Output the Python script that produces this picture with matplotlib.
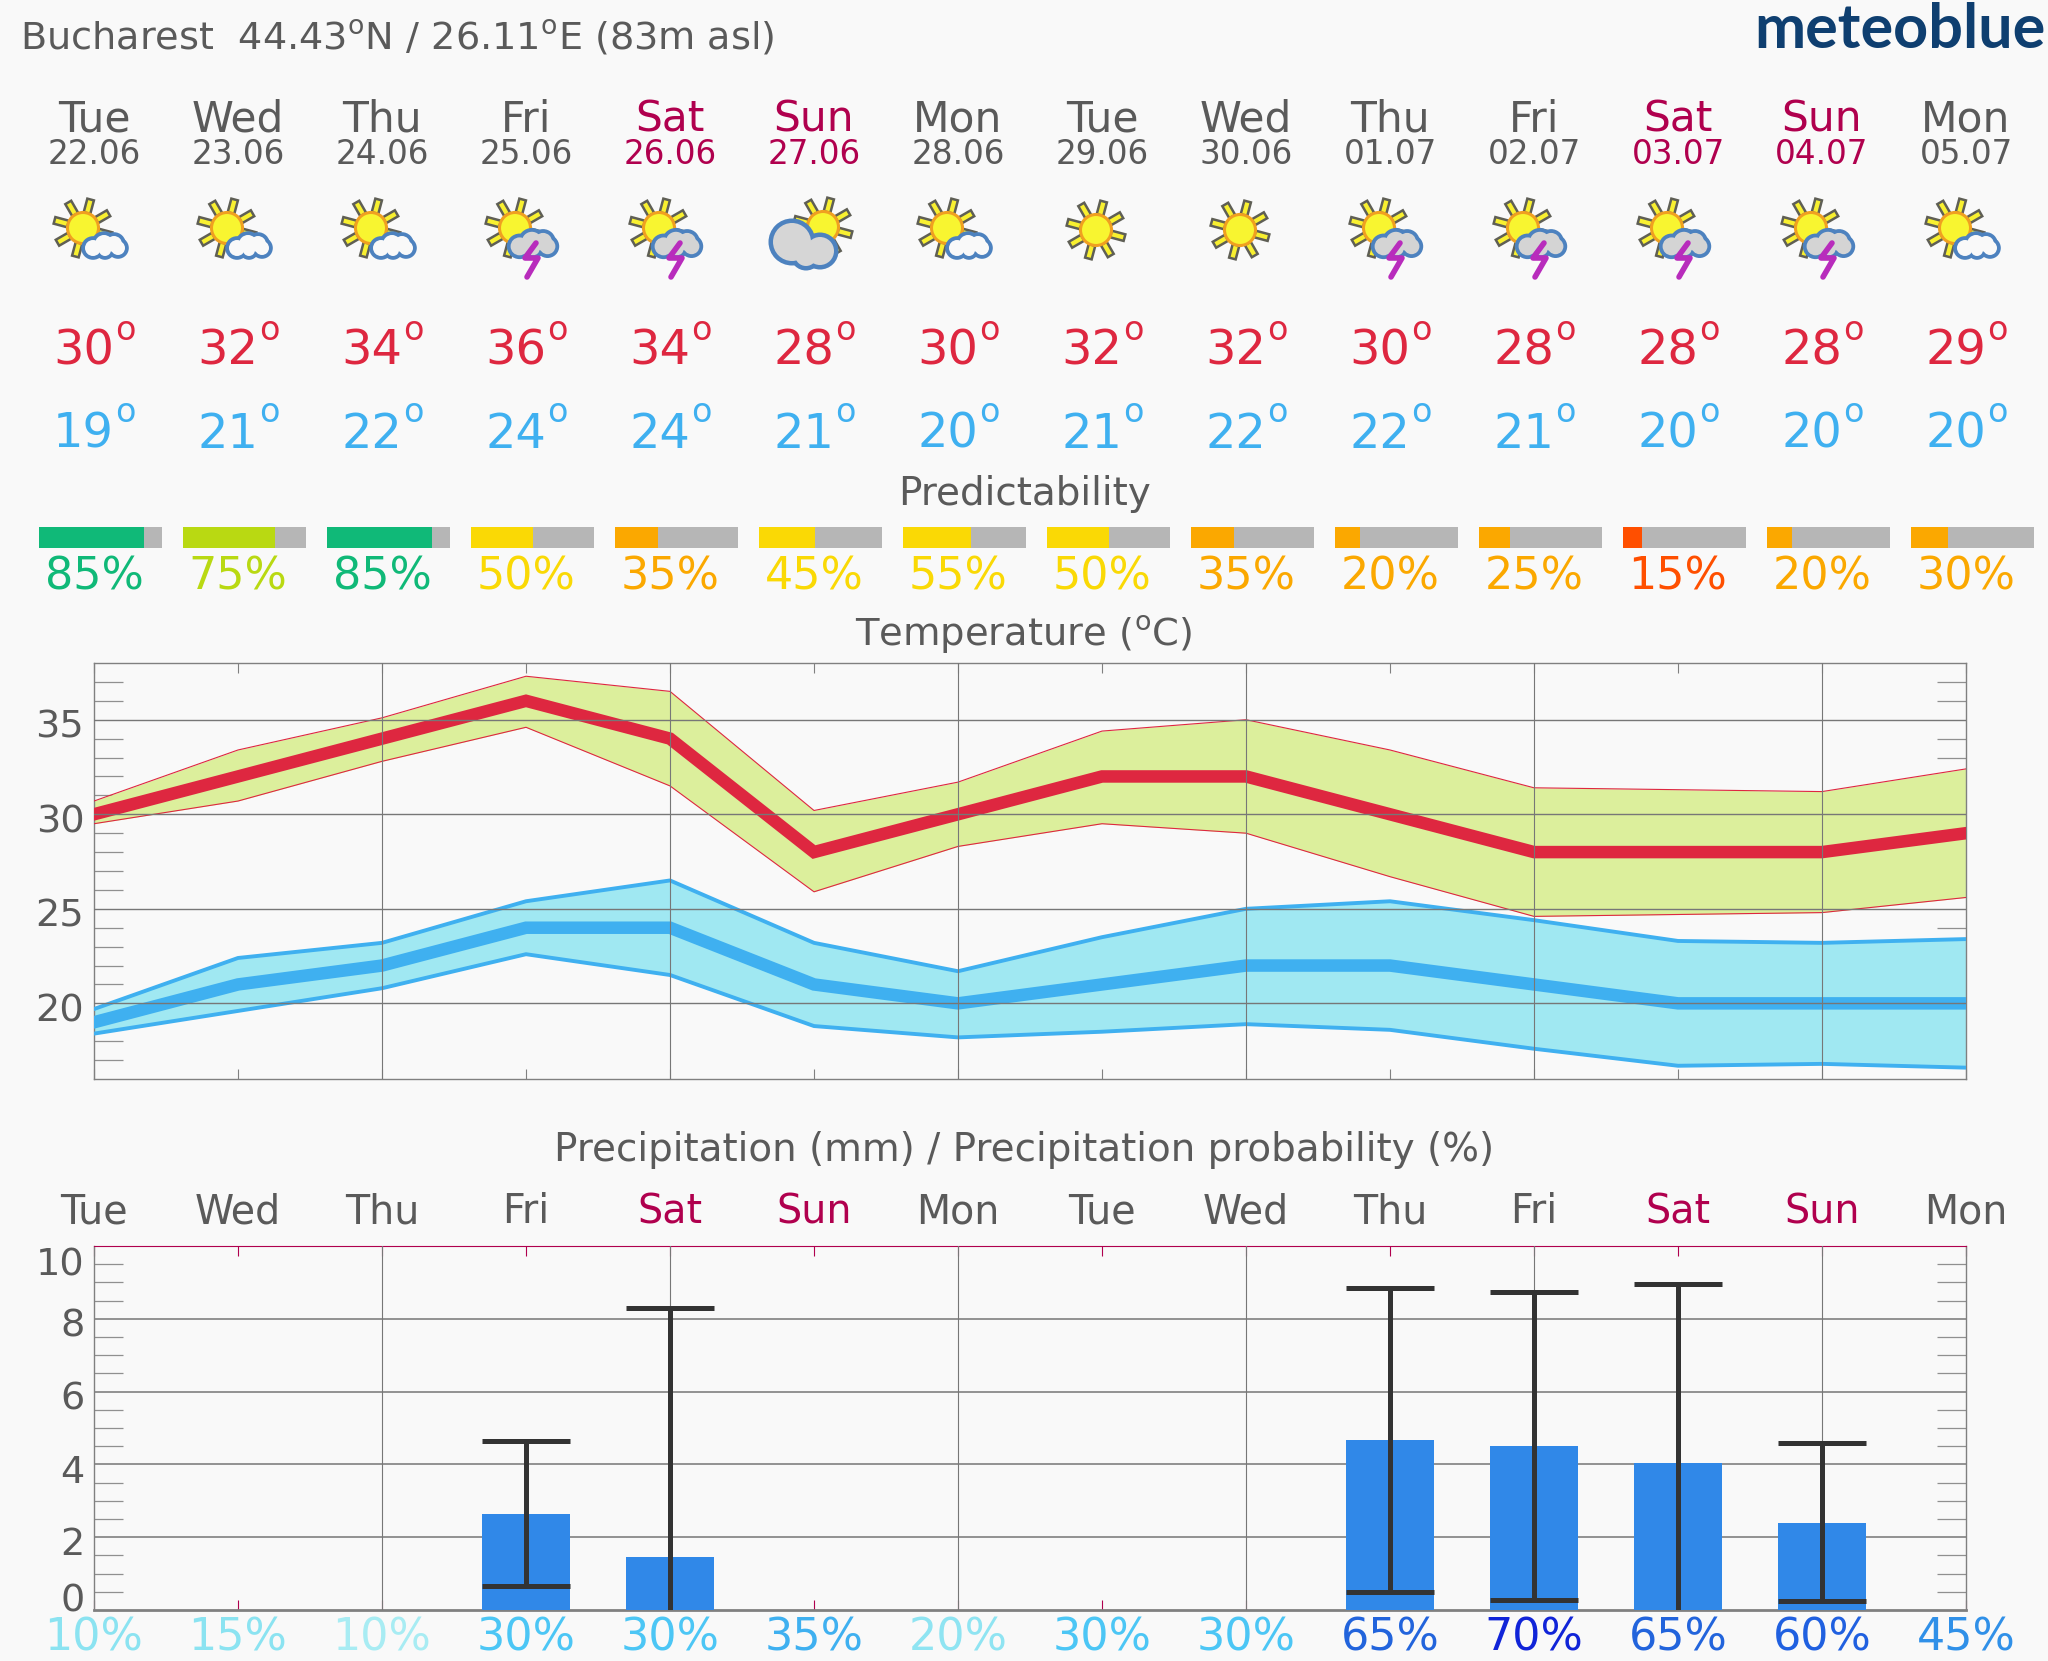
import matplotlib
matplotlib.use('Agg')
import matplotlib.pyplot as plt
import numpy as np
from matplotlib.patches import Circle, Polygon
from matplotlib.transforms import ScaledTranslation

# Data
days = ['Tue', 'Wed', 'Thu', 'Fri', 'Sat', 'Sun', 'Mon', 'Tue', 'Wed', 'Thu', 'Fri', 'Sat', 'Sun', 'Mon']
dates = ['22.06', '23.06', '24.06', '25.06', '26.06', '27.06', '28.06', '29.06', '30.06', '01.07', '02.07', '03.07', '04.07', '05.07']
icons = ['suncloud', 'suncloud', 'suncloud', 'storm', 'storm', 'cloudsun', 'suncloud', 'sun', 'sun', 'storm', 'storm', 'storm', 'storm', 'suncloud']

tmax = [30, 32, 34, 36, 34, 28, 30, 32, 32, 30, 28, 28, 28, 29]
tmin = [19, 21, 22, 24, 24, 21, 20, 21, 22, 22, 21, 20, 20, 20]
tmax_hi = [30.7, 33.4, 35.1, 37.3, 36.5, 30.2, 31.7, 34.4, 35.0, 33.4, 31.4, 31.3, 31.2, 32.4]
tmax_lo = [29.5, 30.7, 32.8, 34.6, 31.5, 25.9, 28.3, 29.5, 29.0, 26.7, 24.6, 24.7, 24.8, 25.6]
tmin_hi = [19.7, 22.4, 23.2, 25.4, 26.5, 23.2, 21.7, 23.5, 25.0, 25.4, 24.4, 23.3, 23.2, 23.4]
tmin_lo = [18.4, 19.6, 20.8, 22.6, 21.5, 18.8, 18.2, 18.5, 18.9, 18.6, 17.6, 16.7, 16.8, 16.6]

predictability = [85, 75, 85, 50, 35, 45, 55, 50, 35, 20, 25, 15, 20, 30]
pred_colors = ['#10b978', '#b9d912', '#10b978', '#fad905', '#fba800', '#fad905', '#fad905',
               '#fad905', '#fba800', '#fba800', '#fba800', '#ff4f00', '#fba800', '#fba800']

precip = [0, 0, 0, 2.65, 1.45, 0, 0, 0, 0, 4.67, 4.5, 4.05, 2.4, 0]
precip_lo = [0, 0, 0, 0.65, 0, 0, 0, 0, 0, 0.5, 0.28, 0, 0.25, 0]
precip_hi = [0, 0, 0, 4.65, 8.3, 0, 0, 0, 0, 8.85, 8.75, 8.95, 4.58, 0]
precip_prob = [10, 15, 10, 30, 30, 35, 20, 30, 30, 65, 70, 65, 60, 45]
prob_colors = ['#8be3f1', '#8be3f1', '#a8ecf3', '#4cc6f5', '#4cc6f5', '#3fb0f0', '#8fe4f2', '#4cc6f5',
               '#4cc6f5', '#2264dc', '#1024d8', '#2264dc', '#2060e0', '#3090e8']

# Style
W, H = 2048, 1661
bg = '#f9f9f9'
grey = '#5a5a5a'
weekend = '#b0004e'
red = '#de2740'
blue = '#3fb0f0'
line_grey = '#808080'
bar_w = 0.853

plt.rcParams['font.family'] = 'DejaVu Sans'
plt.rcParams['mathtext.default'] = 'regular'

fig = plt.figure(figsize=(W / 100, H / 100), dpi=100, facecolor=bg)


def rect(left, top, right, bottom):
    return [left / W, 1 - bottom / H, (right - left) / W, (bottom - top) / H]


def day_x(i):
    return 94 + i * (1966 - 94) / 13


def day_color(name):
    return weekend if name in ('Sat', 'Sun') else grey


# Sheet in pixel coordinates for the header texts and the icons
sheet = fig.add_axes([0, 0, 1, 1])
sheet.set_xlim(0, W)
sheet.set_ylim(H, 0)
sheet.axis('off')


def draw_sun(cx, cy, r=15.5):
    for angle in np.arange(0, 360, 45) + 15:
        a = np.radians(angle)
        u = np.array([np.cos(a), np.sin(a)])
        n = np.array([-u[1], u[0]])
        c = np.array([cx, cy])
        pts = [c + u * r - n * 3.4, c + u * (r + 14) - n * 3.4, c + u * (r + 14) + n * 3.4, c + u * r + n * 3.4]
        sheet.add_patch(Polygon(pts, closed=True, fc='#f8f030', ec='#5f5f55', lw=1.8, zorder=3))
    sheet.add_patch(Circle((cx, cy), r, fc='#f8f530', ec='#f0a020', lw=2.2, zorder=4))


def draw_cloud(cx, cy, fill, scale=1.0):
    parts = [(-12, 3, 8), (-1, -1, 9), (9, -1, 8), (13, 3, 7), (0, 5, 6)]
    for dx, dy, r in parts:
        sheet.add_patch(Circle((cx + dx * scale, cy + dy * scale), r * scale + 3.8, fc='#4d82bf', ec='none', zorder=5))
    for dx, dy, r in parts:
        sheet.add_patch(Circle((cx + dx * scale, cy + dy * scale), r * scale, fc=fill, ec='none', zorder=6))


def draw_big_cloud(cx, cy):
    lobes = [(-12, -3, 19), (16, 6, 14), (2, 10, 11)]
    for dx, dy, r in lobes:
        sheet.add_patch(Circle((cx + dx, cy + dy), r + 4.5, fc='#4d82bf', ec='none', zorder=5))
    for dx, dy, r in lobes:
        sheet.add_patch(Circle((cx + dx, cy + dy), r, fc='#d6d6d6', ec='none', zorder=6))


def draw_bolt(cx, cy):
    xs = np.array([10, -1, 12, 1]) + cx
    ys = np.array([13, 28, 28, 47]) + cy
    sheet.plot(xs, ys, color='#b82cbc', lw=4, solid_capstyle='round', zorder=7)


def draw_icon(cx, kind):
    cy = 230
    if kind == 'sun':
        draw_sun(cx - 6, cy)
    elif kind == 'suncloud':
        draw_sun(cx - 11, cy - 2)
        draw_cloud(cx + 11, cy + 15, bg)
    elif kind == 'storm':
        draw_sun(cx - 11, cy - 2)
        draw_cloud(cx + 7, cy + 13, '#d4d4d4', 1.12)
        draw_bolt(cx, cy)
    elif kind == 'cloudsun':
        draw_sun(cx + 9, cy - 3)
        draw_big_cloud(cx - 10, cy + 15)


def temp_label(x, y, value, color):
    sheet.text(x + 20, y, '%d' % value, color=color, fontsize=34.5, ha='right', va='center')
    sheet.text(x + 21, y - 21, 'o', color=color, fontsize=24, ha='left', va='center')


sheet.text(20, 38, 'Bucharest  44.43$^{o}$N / 26.11$^{o}$E (83m asl)', color=grey, fontsize=27.5, ha='left', va='center')
sheet.text(2046, 30, 'meteoblue', color='#0f3f70', fontsize=44, fontweight='bold', family='Lato', ha='right', va='center')

for i, name in enumerate(days):
    x = day_x(i)
    c = day_color(name)
    sheet.text(x, 120, name, color=c, fontsize=30.5, ha='center', va='center')
    sheet.text(x, 155, dates[i], color=c, fontsize=23.5, ha='center', va='center')
    draw_icon(x, icons[i])
    temp_label(x, 351, tmax[i], red)
    temp_label(x, 434, tmin[i], blue)
    sheet.text(x, 577, '%d%%' % predictability[i], color=pred_colors[i], fontsize=32, ha='center', va='center')
    sheet.text(x, 1212, name, color=c, fontsize=28.5, ha='center', va='center')
    sheet.text(x, 1638, '%d%%' % precip_prob[i], color=prob_colors[i], fontsize=32, ha='center', va='center')

sheet.text(W / 2, 494, 'Predictability', color=grey, fontsize=28, ha='center', va='center')
sheet.text(W / 2, 635, 'Temperature ($^{o}$C)', color=grey, fontsize=27.7, ha='center', va='center')
sheet.text(W / 2, 1150, 'Precipitation (mm) / Precipitation probability (%)', color=grey, fontsize=28, ha='center', va='center')

# Predictability bars
ax_pred = fig.add_axes(rect(94, 527, 1966, 548))
ax_pred.set_xlim(0, 13)
ax_pred.set_ylim(0, 1)
ax_pred.axis('off')
bar_left = np.arange(14) - 0.38
ax_pred.bar(bar_left, 1, bar_w, align='edge', color='#b6b6b6', clip_on=False)
ax_pred.bar(bar_left, 1, np.array(predictability) / 100 * bar_w, align='edge', color=pred_colors, clip_on=False)


def style_axes(ax):
    ax.set_facecolor('none')
    ax.set_xlim(0, 13)
    ax.set_xticks(np.arange(14))
    ax.set_xticklabels([])
    for s in ax.spines.values():
        s.set_color(line_grey)
        s.set_linewidth(1.0)
    ax.tick_params(axis='x', which='major', direction='in', length=7, width=0.8, color=line_grey, top=True, bottom=True)
    ax.tick_params(axis='y', which='major', direction='in', length=0, labelsize=27.5, labelcolor=grey, pad=7)
    ax.tick_params(axis='y', which='minor', direction='in', length=21, width=0.9, color='#909090', left=True, right=True)
    for d in np.arange(2, 13, 2):
        ax.axvline(d, color='#777777', lw=0.8, zorder=4)


def shift_labels(ax, shifts):
    # tick labels sit a little off their grid lines in the original, in points
    for lab, dy in zip(ax.get_yticklabels(), shifts):
        lab.set_transform(lab.get_transform() + ScaledTranslation(0, dy / 72, fig.dpi_scale_trans))


# Temperature
ax_t = fig.add_axes(rect(94, 663, 1966, 1079))
style_axes(ax_t)
ax_t.set_ylim(16, 38)
ax_t.set_yticks([20, 25, 30, 35])
ax_t.set_yticks(np.arange(17, 38), minor=True)
shift_labels(ax_t, [-3, -3, -3, -3])
for v in [20, 25, 30, 35]:
    ax_t.axhline(v, color='#777777', lw=1.0, zorder=4)
xd = np.arange(14)
ax_t.fill_between(xd, tmax_lo, tmax_hi, color='#dcef9c', lw=0, zorder=2)
ax_t.plot(xd, tmax_hi, color=red, lw=0.8, zorder=3)
ax_t.plot(xd, tmax_lo, color=red, lw=0.8, zorder=3)
ax_t.fill_between(xd, tmin_lo, tmin_hi, color='#a0e8f2', lw=0, zorder=2)
ax_t.plot(xd, tmin_hi, color=blue, lw=2.8, zorder=3)
ax_t.plot(xd, tmin_lo, color=blue, lw=2.8, zorder=3)
ax_t.plot(xd, tmin, color=blue, lw=9, zorder=3, solid_joinstyle='miter')
ax_t.plot(xd, tmax, color=red, lw=9, zorder=3, solid_joinstyle='miter')

# Precipitation
ax_p = fig.add_axes(rect(94, 1246, 1966, 1610))
style_axes(ax_p)
ax_p.set_ylim(0, 10)
ax_p.set_yticks([0, 2, 4, 6, 8, 10])
ax_p.set_yticks(np.arange(0.5, 10, 0.5), minor=True)
shift_labels(ax_p, [9, -3, -3, -3, -3, -11])
ax_p.spines['top'].set_color(weekend)
ax_p.spines['top'].set_linewidth(0.8)
ax_p.tick_params(axis='x', which='major', color=weekend)
ax_p.spines['bottom'].set_linewidth(2)
for v in [2, 4, 6, 8]:
    ax_p.axhline(v, color='#8a8a8a', lw=1.3, zorder=1)
ax_p.bar(xd, precip, 0.61, color='#3088e8', zorder=5)
for i in range(14):
    if precip[i] > 0:
        ax_p.plot([i, i], [precip_lo[i], precip_hi[i]], color='#333333', lw=3.6, zorder=6, solid_capstyle='butt')
        ax_p.plot([i - 0.305, i + 0.305], [precip_hi[i], precip_hi[i]], color='#333333', lw=3.6, zorder=6, solid_capstyle='butt')
        if precip_lo[i] > 0:
            ax_p.plot([i - 0.305, i + 0.305], [precip_lo[i], precip_lo[i]], color='#333333', lw=3.6, zorder=6, solid_capstyle='butt')

fig.savefig('out.png', dpi=100, facecolor=bg)
